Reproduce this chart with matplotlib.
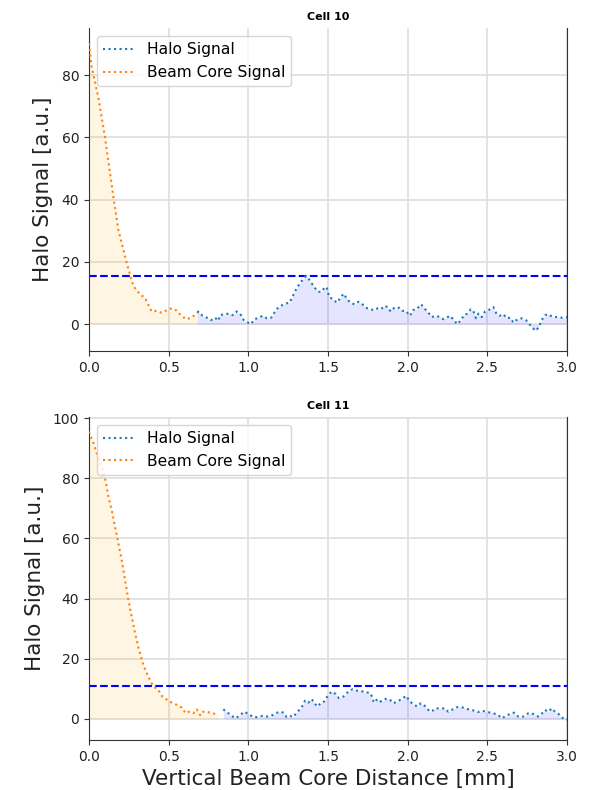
import matplotlib
matplotlib.use("Agg")
import matplotlib.pyplot as plt
import numpy as np

# ---------------- Cell 10 ----------------
core10_x = [0.0, 0.017, 0.058, 0.10, 0.153, 0.184, 0.237, 0.278, 0.32, 0.351,
            0.393, 0.425, 0.456, 0.508, 0.54, 0.571, 0.609, 0.644, 0.68]
core10_y = [90.1, 82.7, 73.0, 60.3, 41.0, 30.4, 19.7, 12.3, 9.6, 8.5,
            4.1, 4.3, 3.7, 5.0, 4.8, 3.2, 1.6, 2.1, 3.7]

halo10_x = [0.68, 0.686, 0.713, 0.739, 0.765, 0.791, 0.812, 0.822, 0.849, 0.881, 0.902,
            0.927, 0.953, 0.970, 0.995, 1.016, 1.037, 1.064, 1.091, 1.116, 1.144,
            1.162, 1.183, 1.204, 1.232, 1.259, 1.274, 1.289, 1.305, 1.322, 1.343,
            1.358, 1.372, 1.389, 1.414, 1.439, 1.460, 1.477, 1.492, 1.508, 1.534,
            1.555, 1.576, 1.597, 1.618, 1.639, 1.666, 1.691, 1.716, 1.737, 1.764,
            1.791, 1.812, 1.833, 1.854, 1.875, 1.890, 1.905, 1.925, 1.946, 1.967,
            1.988, 2.015, 2.032, 2.057, 2.084, 2.105, 2.130, 2.151, 2.176, 2.203,
            2.224, 2.245, 2.266, 2.291, 2.312, 2.339, 2.354, 2.375, 2.396, 2.412,
            2.429, 2.444, 2.465, 2.486, 2.507, 2.528, 2.538, 2.559, 2.576, 2.601,
            2.622, 2.643, 2.664, 2.689, 2.716, 2.743, 2.764, 2.785, 2.806, 2.827,
            2.841, 2.862, 2.883, 2.911, 2.940, 2.968, 3.0]
halo10_y = [3.7, 4.06, 2.7, 2.1, 1.3, 2.1, 1.1, 2.9, 3.2, 3.4, 2.9,
            4.1, 3.0, 1.4, 0.6, 0.0, 1.5, 2.1, 2.7, 1.9, 2.1,
            3.6, 5.1, 5.9, 6.6, 6.9, 8.5, 10.1, 11.7, 13.0, 14.4,
            15.4, 15.1, 13.8, 11.9, 10.4, 10.4, 11.7, 11.9, 8.7, 8.0,
            6.9, 8.3, 9.8, 8.3, 6.9, 6.4, 7.2, 6.4, 5.3, 4.8,
            4.5, 5.1, 4.8, 5.9, 5.5, 4.3, 5.3, 4.8, 5.3, 4.3,
            4.3, 2.7, 4.5, 4.8, 6.4, 5.1, 3.7, 2.3, 2.7, 2.3,
            1.6, 2.1, 2.7, 1.3, 0.0, 1.6, 3.0, 3.4, 4.8, 4.3,
            1.9, 3.4, 2.3, 4.1, 4.5, 5.1, 5.5, 3.2, 2.7, 3.2,
            1.9, 2.1, 0.5, 1.6, 1.9, 1.3, 0.0, -1.3, -2.1, -0.5,
            1.3, 2.9, 3.2, 2.3, 2.3, 2.1, 2.3]
threshold10 = 15.6

# ---------------- Cell 11 ----------------
core11_x = [0.0, 0.027, 0.054, 0.08, 0.105, 0.121, 0.142, 0.163, 0.184, 0.205,
            0.226, 0.247, 0.268, 0.289, 0.314, 0.341, 0.372, 0.404, 0.435, 0.456,
            0.477, 0.502, 0.523, 0.55, 0.582, 0.607, 0.628, 0.655, 0.676, 0.697,
            0.707, 0.728, 0.753, 0.78, 0.808]
core11_y = [95.5, 91.9, 87.4, 83.6, 79.1, 74.1, 69.7, 64.1, 58.6, 53.0,
            46.3, 39.7, 34.1, 28.6, 23.0, 18.0, 14.1, 10.8, 9.7, 7.7,
            6.9, 5.8, 5.4, 4.7, 3.8, 1.9, 2.4, 1.9, 3.2, 1.3,
            2.4, 2.4, 2.2, 1.9, 1.1]

halo11_x = [0.843, 0.870, 0.896, 0.921, 0.948, 0.975, 1.0, 1.031, 1.059, 1.088,
            1.115, 1.142, 1.167, 1.193, 1.220, 1.241, 1.262, 1.282, 1.303, 1.324,
            1.345, 1.356, 1.376, 1.398, 1.418, 1.435, 1.456, 1.477, 1.498, 1.523,
            1.548, 1.569, 1.596, 1.627, 1.655, 1.680, 1.705, 1.732, 1.759, 1.774,
            1.789, 1.81, 1.831, 1.858, 1.885, 1.910, 1.935, 1.963, 1.990, 2.010,
            2.032, 2.061, 2.082, 2.109, 2.130, 2.151, 2.172, 2.203, 2.234, 2.255,
            2.283, 2.308, 2.339, 2.366, 2.391, 2.416, 2.443, 2.471, 2.496, 2.521,
            2.548, 2.569, 2.590, 2.617, 2.642, 2.667, 2.694, 2.715, 2.736, 2.757,
            2.778, 2.799, 2.820, 2.841, 2.862, 2.883, 2.904, 2.925, 2.946, 2.967,
            2.988, 3.0]
halo11_y = [3.2, 2.1, 1.0, 0.2, 1.3, 2.4, 1.7, 0.6, 0.6, 1.0,
            0.8, 1.0, 1.7, 2.4, 2.1, 0.6, 1.0, 0.6, 2.1, 3.2,
            4.7, 6.1, 5.4, 6.6, 5.0, 4.1, 5.4, 5.8, 7.7, 9.1,
            8.3, 6.9, 7.4, 9.1, 9.9, 9.4, 9.4, 8.8, 8.8, 7.7,
            5.4, 6.6, 5.8, 6.6, 6.6, 5.2, 5.8, 6.6, 7.7, 6.1,
            5.0, 4.1, 5.2, 4.3, 3.0, 2.4, 3.5, 3.5, 3.5, 2.4,
            3.2, 3.9, 3.9, 3.5, 3.0, 2.8, 2.3, 2.7, 2.3, 2.1,
            1.7, 1.3, 0.2, 1.0, 1.7, 2.1, 0.8, 0.6, 1.0, 1.9,
            1.9, 1.3, 0.8, 1.7, 3.0, 2.4, 3.5, 2.4, 1.7, 0.6,
            -0.4, -0.2]
threshold11 = 10.8

titles = ["Cell 10", "Cell 11"]
yticks_list = [[0, 20, 40, 60, 80], [0, 20, 40, 60, 80, 100]]
ylims = [(-8.6, 95.0), (-7.0, 100.4)]
xticks = [0.0, 0.5, 1.0, 1.5, 2.0, 2.5, 3.0]

fig = plt.figure(figsize=(5.9, 7.9), dpi=100)
ax1 = fig.add_axes([0.1508, 0.5557, 0.8102, 0.4085])
ax2 = fig.add_axes([0.1508, 0.0633, 0.8102, 0.4089])

panels = [
    (ax1, core10_x, core10_y, halo10_x, halo10_y, threshold10),
    (ax2, core11_x, core11_y, halo11_x, halo11_y, threshold11),
]

for i, (ax, cx, cy, hx, hy, thr) in enumerate(panels):
    ax.grid(True, color="#e0e0e0", linewidth=1.3, zorder=0)
    ax.set_axisbelow(True)
    ax.fill_between(hx, 0, hy, color="blue", alpha=0.1, linewidth=0, zorder=1)
    ax.fill_between(cx, 0, cy, color="orange", alpha=0.11, linewidth=0, zorder=1)
    ax.plot(hx, hy, linestyle=":", color="tab:blue", linewidth=1.5, label="Halo Signal", zorder=3)
    ax.plot(cx, cy, linestyle=":", color="tab:orange", linewidth=1.5, label="Beam Core Signal", zorder=3)
    ax.axhline(thr, color="blue", linestyle="--", linewidth=1.5, zorder=2)
    ax.set_xlim(0, 3.0)
    ax.set_ylim(*ylims[i])
    ax.set_xticks(xticks)
    ax.set_xticklabels([f"{t:.1f}" for t in xticks])
    ax.set_yticks(yticks_list[i])
    ax.tick_params(labelsize=10, colors="#333333", labelcolor="#222222")
    ax.set_title(titles[i], fontsize=8, fontweight="bold", pad=6)
    ax.set_ylabel("Halo Signal [a.u.]", fontsize=15.5, color="#222222", labelpad=6)
    ax.spines["top"].set_visible(False)
    for s in ["left", "bottom", "right"]:
        ax.spines[s].set_color("#333333")
    ax.legend(loc="upper left", fontsize=11.2, framealpha=0.8, borderaxespad=0.5)

ax2.set_xlabel("Vertical Beam Core Distance [mm]", fontsize=15.5, color="#222222")

fig.savefig("out.png", dpi=100)
